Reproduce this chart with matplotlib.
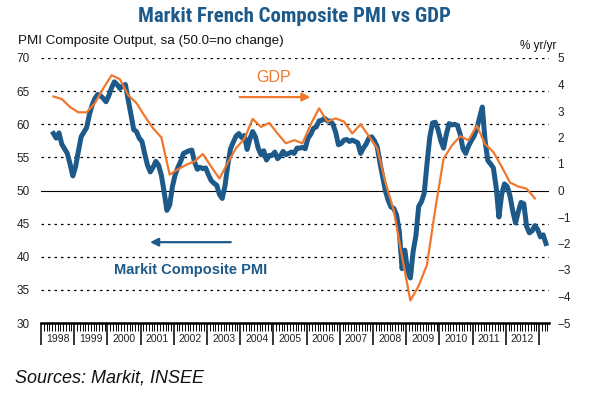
import numpy as np
import matplotlib
matplotlib.use('Agg')
import matplotlib.pyplot as plt
from matplotlib import font_manager

plt.rcParams['font.family'] = ['Liberation Sans', 'DejaVu Sans']

# Markit French composite PMI, monthly, May 1998 - Mar 2013
pmi_start = (1998, 5)
pmi = [
    58.6, 57.9, 58.7, 57.0, 56.3, 55.6, 54.0, 52.2,                      # 1998 (May-Dec)
    53.6, 55.9, 58.1, 58.8, 59.5, 61.5, 62.9, 63.9, 64.5, 64.3, 63.9, 63.4,  # 1999
    64.3, 65.5, 66.4, 66.0, 65.4, 65.8, 66.0, 63.7, 61.5, 59.2, 58.9, 57.9,  # 2000
    57.4, 55.5, 53.8, 52.8, 53.5, 54.4, 53.8, 52.3, 49.8, 47.0, 47.8, 50.6,  # 2001
    52.4, 53.5, 54.4, 55.6, 55.8, 56.0, 56.1, 54.3, 53.2, 53.5, 53.3, 53.4,  # 2002
    52.4, 51.5, 51.1, 50.8, 49.4, 48.8, 50.7, 53.8, 56.3, 57.3, 58.2, 58.6,  # 2003
    58.0, 58.3, 56.2, 57.8, 58.9, 58.1, 56.4, 55.4, 56.0, 54.6, 55.3, 55.3,  # 2004
    55.8, 54.8, 55.2, 55.9, 55.4, 55.6, 55.8, 55.6, 56.4, 56.4, 56.5, 56.3,  # 2005
    57.9, 58.5, 59.4, 59.6, 60.5, 60.6, 60.9, 60.5, 60.5, 60.0, 58.8, 56.9,  # 2006
    57.1, 57.6, 57.7, 57.4, 57.6, 57.4, 57.2, 55.6, 56.4, 57.0, 57.9, 58.1,  # 2007
    57.5, 56.6, 54.2, 52.0, 49.9, 48.5, 47.5, 47.3, 46.3, 43.8, 38.2, 41.0,  # 2008
    37.8, 36.8, 40.8, 43.2, 47.6, 48.3, 49.6, 54.0, 58.0, 60.2, 60.3, 59.2,  # 2009
    57.5, 56.4, 58.5, 60.1, 59.9, 60.0, 59.8, 58.5, 56.3, 55.6, 56.7, 57.5,  # 2010
    58.2, 59.3, 61.0, 62.6, 57.5, 54.5, 54.0, 53.4, 50.5, 46.0, 49.4, 51.0,  # 2011
    50.6, 49.2, 46.9, 45.1, 46.8, 48.2, 48.0, 44.6, 43.6, 43.9, 44.7, 44.1,  # 2012
    43.0, 43.3, 42.0,                                                    # 2013
]

# French GDP % yr/yr, quarterly, Q2 1998 - Q4 2012
gdp_start = (1998, 2)
gdp = [
    3.55, 3.45, 3.15,
    2.95, 2.95, 3.3, 3.85,
    4.35, 4.2, 3.6, 3.3,
    2.8, 2.35, 2.0, 0.6,
    0.8, 0.97, 1.1, 1.38,
    0.9, 0.45, 1.05, 1.6,
    1.95, 2.7, 2.4, 2.55,
    2.15, 1.78, 1.9, 1.78,
    2.5, 3.1, 2.6, 2.72,
    2.6, 2.15, 2.5, 2.05,
    1.6, 0.3, -0.75, -2.5,
    -4.15, -3.6, -2.8, -0.7,
    1.2, 1.7, 2.05, 1.9,
    2.45, 1.75, 1.45, 0.9,
    0.3, 0.15, 0.07, -0.3,
]

years = list(range(1998, 2013))

blue = '#1d5a8a'
orange = '#f0782d'

# condensed face for the title if one is around
names = {f.name for f in font_manager.fontManager.ttflist}
title_fam = [n for n in ['Liberation Sans Narrow', 'Roboto Condensed', 'DejaVu Sans Condensed']
             if n in names] + ['Liberation Sans']

t_pmi = pmi_start[0] + (pmi_start[1] - 1 + 0.5 + np.arange(len(pmi))) / 12
t_gdp = gdp_start[0] + ((gdp_start[1] - 1) * 3 + 1.5 + 3 * np.arange(len(gdp))) / 12

fig = plt.figure(figsize=(5.89, 3.97), dpi=100)
ax = fig.add_axes([41 / 589, 1 - 323 / 397, 508 / 589, 265 / 397])
ax2 = ax.twinx()

ax.set_xlim(1998, 2013.3)
ax.set_ylim(30, 70)
ax2.set_ylim(-5, 5)

for v in range(35, 75, 5):
    if v != 50:
        ax.axhline(v, color='black', lw=0.9, ls=(0, (2, 3.2)), zorder=1)
ax.axhline(50, color='black', lw=0.8, zorder=1)

ax.plot(t_pmi, pmi, color=blue, lw=3.6, zorder=2, solid_joinstyle='round')
ax2.plot(t_gdp, gdp, color=orange, lw=1.6, zorder=3)
ax.patch.set_visible(False)
ax2.patch.set_visible(False)

for a in (ax, ax2):
    for s in a.spines.values():
        s.set_visible(False)
ax.spines['bottom'].set_visible(True)
ax.spines['bottom'].set_linewidth(1.8)

ax.set_yticks(range(30, 75, 5))
ax.tick_params(axis='y', length=0, labelsize=8.5, labelcolor='#222222', pad=8)
ax2.set_yticks(range(-5, 6))
ax2.tick_params(axis='y', length=0, labelsize=8.5, labelcolor='#222222', pad=6)

ax.set_xticks(range(1998, 2014))
ax.set_xticks(1998 + np.arange(0, 15.3 * 12) / 12, minor=True)
ax.tick_params(axis='x', which='major', direction='out', length=16, width=1.1, labelbottom=False)
ax.tick_params(axis='x', which='minor', direction='out', length=5.5, width=0.7)
ax2.tick_params(axis='x', length=0)

for y in years:
    ax.text(y + 0.5, -0.062, str(y), transform=ax.get_xaxis_transform(),
            ha='center', va='center', fontsize=7.5, color='#222222')

ax.annotate('', xy=(2006.2, 64.1), xytext=(2003.9, 64.1),
            arrowprops=dict(arrowstyle='-|>', color=orange, lw=1.6, mutation_scale=12))
ax.text(2005.0, 67.0, 'GDP', color=orange, fontsize=11.5, ha='center', va='center')
ax.annotate('', xy=(2001.2, 42.2), xytext=(2003.8, 42.2),
            arrowprops=dict(arrowstyle='-|>', color=blue, lw=1.6, mutation_scale=12))
ax.text(2002.5, 38.0, 'Markit Composite PMI', color=blue, fontsize=10.5,
        fontweight='bold', ha='center', va='center')

fig.text(0.5, 1 - 17 / 397, 'Markit French Composite PMI vs GDP', ha='center', va='center',
         fontsize=15, fontweight='bold', color=blue, family=title_fam, fontstretch='condensed')
fig.text(18 / 589, 1 - 41 / 397, 'PMI Composite Output, sa (50.0=no change)',
         ha='left', va='center', fontsize=9.6, color='#111111')
fig.text(556 / 589, 1 - 46 / 397, '% yr/yr', ha='right', va='center', fontsize=8.5,
         color='#111111')
fig.text(15 / 589, 1 - 378 / 397, 'Sources: Markit, INSEE', ha='left', va='center',
         fontsize=13, style='italic', color='#111111')

fig.savefig('out.png', dpi=100)
